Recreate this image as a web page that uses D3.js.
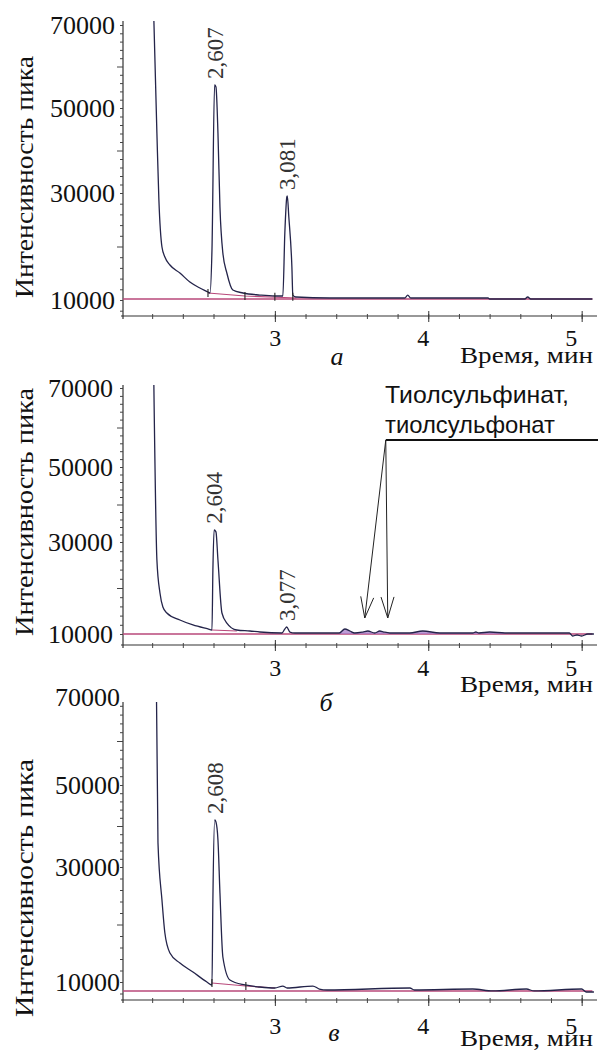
<!DOCTYPE html>
<html>
<head>
<meta charset="utf-8">
<script src="https://cdn.jsdelivr.net/npm/d3@7"></script>
<style>
  body { margin: 0; background: #fff; }
  text { font-family: "Liberation Serif", "Times New Roman", serif; fill: #111; }
  text.sans { font-family: "Liberation Sans", Arial, sans-serif; }
</style>
</head>
<body>
<script>
// retention time, min  /  peak intensity
const timesA = [2.211, 2.231, 2.244, 2.264, 2.283, 2.316, 2.381, 2.446, 2.511, 2.564, 2.577, 2.590, 2.607, 2.616, 2.629, 2.642, 2.661, 2.687, 2.726, 2.792, 2.902, 3.000, 3.052, 3.065, 3.078, 3.081, 3.091, 3.111, 3.117, 3.137, 3.358, 3.847, 3.866, 3.886, 4.390, 4.400, 4.629, 4.648, 4.668, 5.070];
const signalA = [71500, 44120, 28690, 19910, 18040, 16540, 15050, 13360, 12240, 11500, 11310, 19350, 55540, 55060, 44120, 27380, 18780, 15050, 11870, 11310, 10930, 10750, 10750, 22520, 29250, 29440, 25510, 16170, 10930, 10560, 10370, 10370, 10930, 10370, 10370, 10190, 10190, 10560, 10190, 10190];

const timesB = [2.211, 2.231, 2.251, 2.270, 2.296, 2.381, 2.466, 2.564, 2.590, 2.596, 2.604, 2.616, 2.629, 2.655, 2.687, 2.752, 2.837, 2.902, 3.046, 3.065, 3.077, 3.098, 3.130, 3.420, 3.456, 3.489, 3.520, 3.573, 3.606, 3.651, 3.684, 3.710, 3.749, 3.879, 3.964, 4.075, 4.290, 4.310, 4.330, 4.400, 4.500, 4.920, 4.940, 4.970, 5.000, 5.040, 5.080];
const signalB = [71300, 26090, 18910, 15870, 14570, 13040, 11960, 11090, 10870, 23910, 33240, 32700, 26090, 14570, 12390, 10870, 10650, 10430, 10220, 11090, 11520, 10430, 10220, 10220, 11090, 10650, 10220, 10430, 10650, 10220, 10650, 10430, 10220, 10220, 10650, 10220, 10220, 10430, 10220, 10430, 10220, 10220, 9570, 9780, 9570, 10000, 10000];

const timesC = [2.228, 2.238, 2.264, 2.283, 2.316, 2.381, 2.466, 2.557, 2.590, 2.596, 2.608, 2.616, 2.629, 2.642, 2.661, 2.707, 2.805, 2.902, 3.000, 3.052, 3.080, 3.248, 3.290, 3.340, 3.880, 3.910, 4.290, 4.420, 4.640, 4.690, 5.000, 5.030, 5.080];
const signalC = [71000, 35910, 24260, 18520, 15040, 13300, 11740, 10000, 9480, 24260, 41460, 40970, 36590, 25480, 14350, 10350, 9480, 9130, 8960, 9300, 8960, 9300, 8780, 8610, 8960, 8610, 8780, 8440, 8780, 8440, 8780, 8260, 8260];

// labelled peaks: [label, time, intensity]
const peaksA = [['2,607', 2.607, 55540], ['3,081', 3.081, 29440]];
const peaksB = [['2,604', 2.604, 33240], ['3,077', 3.077, 11520]];
const peaksC = [['2,608', 2.608, 41460]];

// integration baseline (pink) pieces
const baseA = 10190, baseB = 10000, baseC = 8435;
const integA = [[2.564, 11310], [2.805, 10750], [3.140, 10370]];
const integB = [[2.590, 10870], [2.752, 10650]];
const integC = [[2.590, 9830], [2.811, 9300], [3.000, 8960]];
const marksA = [[2.564, 11310], [2.805, 10750], [3.000, 10600], [3.117, 10600]];
const marksC = [[2.590, 9830], [2.811, 9300]];

const yTicks = [10000, 30000, 50000, 70000];
const xTicks = [3, 4, 5];
const xMinor = d3.range(2.2, 5.01, 0.2);
const arrowTimes = [3.586, 3.736];
const arrowValue = 13480;
const noteLines = ['Тиолсульфинат,', 'тиолсульфонат'];
const noteWidths = [184, 170];

const panels = [
  { id: 'a', times: timesA, signal: signalA, peaks: peaksA, base: baseA, integ: integA, marks: marksA,
    top: 21, axisY: 316, tickY: [300, 193, 108, 25], labelPad: 8, xPad: 7, letter: 'а',
    letterPos: [337, 365], titleY: 177, titleLen: 242, unitY: 363 },
  { id: 'b', times: timesB, signal: signalB, peaks: peaksB, base: baseB, integ: integB, marks: [],
    top: 385, axisY: 645, tickY: [634, 542, 467, 388], labelPad: 10, xPad: 8, letter: 'б',
    letterPos: [326, 711], titleY: 512, titleLen: 248, unitY: 692 },
  { id: 'c', times: timesC, signal: signalC, peaks: peaksC, base: baseC, integ: integC, marks: marksC,
    top: 702, axisY: 1000, tickY: [982, 867, 785, 697], labelPad: 3, xPad: 11, letter: 'в',
    letterPos: [334, 1041], titleY: 888, titleLen: 258, unitY: 1046 }
];

const svg = d3.select('body').append('svg')
  .attr('width', 598)
  .attr('height', 1050);

const trace = '#24244a';
const pink = '#b8487a';

panels.forEach((p) => {
  const x = d3.scaleLinear().domain([2.01, 5.1]).range([123, 597]);
  const y = d3.scaleLinear().domain(yTicks).range(p.tickY);
  const g = svg.append('g');

  svg.append('clipPath').attr('id', 'clip-' + p.id)
    .append('rect')
    .attr('x', 123).attr('y', p.top)
    .attr('width', 475).attr('height', p.axisY - p.top);

  // axis lines
  g.append('line')
    .attr('x1', 123).attr('x2', 123)
    .attr('y1', p.top).attr('y2', p.axisY + 3)
    .attr('stroke', '#333').attr('stroke-width', 1.2);
  g.append('line')
    .attr('x1', 121).attr('x2', 597)
    .attr('y1', p.axisY).attr('y2', p.axisY)
    .attr('stroke', '#333').attr('stroke-width', 1.2);

  // y minor ticks
  const yMinor = d3.range(8000, 72001, 2000).filter(v => y(v) >= p.top && y(v) <= p.axisY - 2);
  g.append('g')
    .attr('transform', 'translate(123,0)')
    .call(d3.axisLeft(y).tickValues(yMinor).tickFormat('').tickSize(3))
    .call(s => s.select('.domain').remove())
    .call(s => s.selectAll('.tick line')
      .attr('x2', d => (d % 20000 === 0 ? -6 : -3))
      .attr('stroke', '#444'));

  // y labels
  g.append('g')
    .attr('transform', 'translate(123,0)')
    .call(d3.axisLeft(y).tickValues(yTicks).tickFormat(d3.format('d')).tickSize(0).tickPadding(p.labelPad))
    .call(s => s.select('.domain').remove())
    .call(s => s.selectAll('text')
      .attr('font-size', '26px')
      .attr('fill', '#111'));

  // x minor + major ticks
  g.append('g')
    .attr('transform', `translate(0,${p.axisY})`)
    .call(d3.axisBottom(x).tickValues(xMinor).tickFormat('').tickSize(3))
    .call(s => s.select('.domain').remove())
    .call(s => s.selectAll('.tick line').attr('y1', -2).attr('stroke', '#444'));

  g.append('g')
    .attr('transform', `translate(0,${p.axisY})`)
    .call(d3.axisBottom(x).tickValues(xTicks).tickFormat(d3.format('d')).tickSize(6).tickPadding(p.xPad))
    .call(s => s.select('.domain').remove())
    .call(s => s.selectAll('.tick line').attr('y1', -5).attr('stroke', '#333'))
    .call(s => s.selectAll('text')
      .attr('font-size', '24px')
      .attr('dx', d => -(d - 3) * 5.5)
      .attr('fill', '#111'));

  // axis titles
  g.append('text')
    .attr('transform', `translate(33,${p.titleY}) rotate(-90)`)
    .attr('text-anchor', 'middle')
    .attr('font-size', '25px')
    .attr('textLength', p.titleLen)
    .attr('lengthAdjust', 'spacingAndGlyphs')
    .text('Интенсивность пика');

  g.append('text')
    .attr('x', 460).attr('y', p.unitY)
    .attr('font-size', '24px')
    .attr('textLength', 133)
    .attr('lengthAdjust', 'spacingAndGlyphs')
    .text('Время, мин');

  g.append('text')
    .attr('x', p.letterPos[0]).attr('y', p.letterPos[1])
    .attr('text-anchor', 'middle')
    .attr('font-size', '26px')
    .attr('font-style', 'italic')
    .text(p.letter);

  const plot = g.append('g').attr('clip-path', `url(#clip-${p.id})`);

  // pink baseline
  plot.append('line')
    .attr('x1', 123).attr('x2', x(5.07))
    .attr('y1', y(p.base)).attr('y2', y(p.base))
    .attr('stroke', pink).attr('stroke-width', 1.3);

  const data = p.times.map((t, i) => [t, p.signal[i]]);

  if (p.id === 'b') {
    // shaded small peaks
    const area = d3.area()
      .x(d => x(d[0]))
      .y0(y(p.base))
      .y1(d => y(d[1]))
      .curve(d3.curveMonotoneX);
    plot.append('path')
      .datum(data.filter(d => d[0] >= 3.40 && d[0] <= 4.52))
      .attr('d', area)
      .attr('fill', '#a77cc9')
      .attr('opacity', 0.75);
  }

  plot.append('path')
    .datum(p.integ)
    .attr('d', d3.line().x(d => x(d[0])).y(d => y(d[1])))
    .attr('fill', 'none')
    .attr('stroke', pink)
    .attr('stroke-width', 1.2);

  plot.append('path')
    .datum(data)
    .attr('d', d3.line().x(d => x(d[0])).y(d => y(d[1])).curve(d3.curveMonotoneX))
    .attr('fill', 'none')
    .attr('stroke', trace)
    .attr('stroke-width', 1.3)
    .attr('stroke-linejoin', 'round');

  plot.selectAll('.mark')
    .data(p.marks)
    .join('line')
    .attr('x1', d => x(d[0])).attr('x2', d => x(d[0]))
    .attr('y1', d => y(d[1]) - 4).attr('y2', d => y(d[1]) + 4)
    .attr('stroke', '#222').attr('stroke-width', 1.1);

  // peak labels
  g.selectAll('.peak')
    .data(p.peaks)
    .join('text')
    .attr('transform', d => `translate(${x(d[1]) + 8},${y(d[2]) - 6}) rotate(-90)`)
    .attr('font-size', '23px')
    .style('fill', '#333')
    .text(d => d[0]);

  if (p.id === 'b') {
    const start = [x(3.723), y(56830)];
    g.append('line')
      .attr('x1', start[0]).attr('x2', 598)
      .attr('y1', start[1]).attr('y2', start[1])
      .attr('stroke', '#111').attr('stroke-width', 1.8);

    arrowTimes.forEach((t) => {
      const tip = [x(t), y(arrowValue)];
      g.append('line')
        .attr('x1', start[0]).attr('y1', start[1])
        .attr('x2', tip[0]).attr('y2', tip[1])
        .attr('stroke', '#222').attr('stroke-width', 1);
      const ang = Math.atan2(start[1] - tip[1], start[0] - tip[0]);
      [-0.3, 0.3].forEach((da) => {
        g.append('line')
          .attr('x1', tip[0]).attr('y1', tip[1])
          .attr('x2', tip[0] + 22 * Math.cos(ang + da))
          .attr('y2', tip[1] + 22 * Math.sin(ang + da))
          .attr('stroke', '#222').attr('stroke-width', 1);
      });
    });

    g.selectAll('.note')
      .data(noteLines)
      .join('text')
      .attr('class', 'sans')
      .attr('x', 385)
      .attr('y', (d, i) => 403 + i * 30)
      .attr('font-size', '24px')
      .attr('textLength', (d, i) => noteWidths[i])
      .attr('lengthAdjust', 'spacingAndGlyphs')
      .text(d => d);
  }
});
</script>
</body>
</html>
